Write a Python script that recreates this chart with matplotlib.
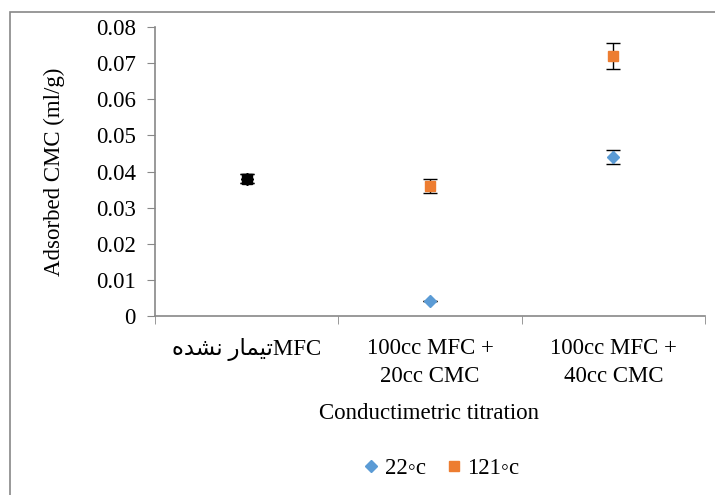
import matplotlib.pyplot as plt
from matplotlib.patches import Rectangle
from matplotlib.ticker import FixedLocator

# visual-order Arabic (presentation forms) so it reads like the original
labels = ['\ufee9\ufeaa\ufeb8\ufee7 \ufead\ufe8e\ufee4\ufef4\ufe97MFC',
          '100cc MFC +\n20cc CMC',
          '100cc MFC +\n40cc CMC']
x = [1, 2, 3]
t22 = [0.038, 0.004, 0.044]
t22_err = [0.0013, 0.0, 0.002]
t121 = [0.038, 0.036, 0.072]
t121_err = [0.0013, 0.002, 0.0037]

plt.rcParams['font.family'] = ['Liberation Serif', 'DejaVu Sans']
fs = 16.5

fig = plt.figure(figsize=(7.15, 4.95), dpi=100)
ax = fig.add_axes([0.217, 0.362, 0.769, 0.583])

blue = '#5B9BD5'
orange = '#ED7D31'

# first category drawn in black as in the original
ax.errorbar(x[0], t121[0], yerr=t121_err[0], fmt='s', color='black', ms=6.5,
            ecolor='black', elinewidth=1, capsize=5, capthick=1)
ax.errorbar(x[0], t22[0], yerr=t22_err[0], fmt='D', color='black', ms=6,
            ecolor='black', elinewidth=1, capsize=5, capthick=1)

ax.errorbar(x[1:], t22[1:], yerr=t22_err[1:], fmt='D', color=blue, ms=6.5,
            ecolor='black', elinewidth=1, capsize=5, capthick=1, zorder=3)
ax.errorbar(x[1:], t121[1:], yerr=t121_err[1:], fmt='s', color=orange, ms=6.5,
            ecolor='black', elinewidth=1, capsize=5, capthick=1, zorder=3)

# legend handles
ax.plot([], [], 'D', color=blue, ms=6.5, label='22\u25e6c')
ax.plot([], [], 's', color=orange, ms=6.5, label='121\u25e6c')

ax.set_xlim(0.5, 3.5)
ax.set_ylim(0, 0.08)
ax.set_yticks([0, 0.01, 0.02, 0.03, 0.04, 0.05, 0.06, 0.07, 0.08])
ax.set_yticklabels(['0', '0.01', '0.02', '0.03', '0.04', '0.05', '0.06', '0.07', '0.08'])
ax.set_xticks(x)
ax.set_xticklabels(labels, linespacing=1.45)
ax.xaxis.set_minor_locator(FixedLocator([0.5, 1.5, 2.5, 3.5]))
ax.tick_params(axis='x', which='major', length=0, pad=16, labelsize=fs)
ax.tick_params(axis='x', which='minor', length=6, color='#888888')
ax.tick_params(axis='y', length=6, color='#888888', labelsize=fs, pad=8)

for s in ['top', 'right']:
    ax.spines[s].set_visible(False)
for s in ['left', 'bottom']:
    ax.spines[s].set_color('#888888')
    ax.spines[s].set_linewidth(1.2)

ax.set_ylabel('Adsorbed CMC (ml/g)', fontsize=fs, labelpad=22)
fig.text(0.6, 0.165, 'Conductimetric titration', ha='center', va='center', fontsize=fs)

handles, lbls = ax.get_legend_handles_labels()
fig.legend(handles[-2:], lbls[-2:], loc='center', bbox_to_anchor=(0.615, 0.053), ncol=2,
           frameon=False, fontsize=fs, handletextpad=0.1, columnspacing=0.7,
           handlelength=1.0)

fig.patches.append(Rectangle((10 / 715, -0.1), 1.2, 1 - 12 / 495 + 0.1,
                             transform=fig.transFigure, fill=False,
                             edgecolor='#888888', linewidth=1.2))

fig.savefig('out.png', dpi=100)
